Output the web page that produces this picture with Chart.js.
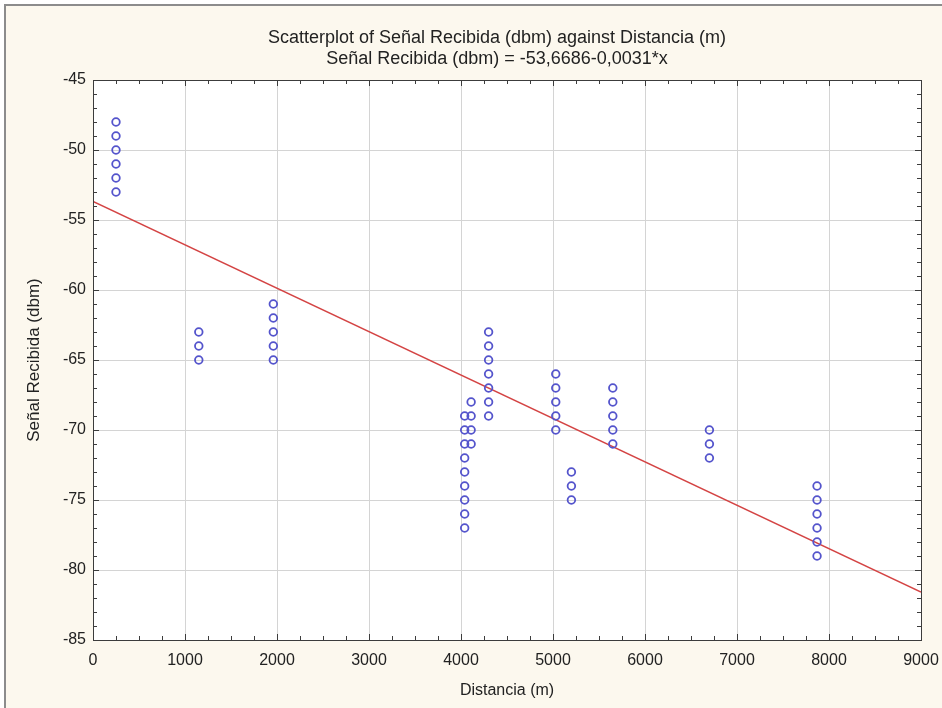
<!DOCTYPE html>
<html>
<head>
<meta charset="utf-8">
<script src="https://cdn.jsdelivr.net/npm/chart.js@4"></script>
<style>
  body { margin: 0; background: #ffffff; }
  #chart { display: block; }
</style>
</head>
<body>
<canvas id="chart" width="942" height="708"></canvas>
<script>
// distance groups (m) and the signal readings measured at each one
const distances = [250, 1150, 1960, 4040, 4110, 4300, 5030, 5200, 5650, 6700, 7870];
const signals = [
  [-48, -49, -50, -51, -52, -53],
  [-63, -64, -65],
  [-61, -62, -63, -64, -65],
  [-69, -70, -71, -72, -73, -74, -75, -76, -77],
  [-68, -69, -70, -71],
  [-63, -64, -65, -66, -67, -68, -69],
  [-66, -67, -68, -69, -70],
  [-73, -74, -75],
  [-67, -68, -69, -70, -71],
  [-70, -71, -72],
  [-74, -75, -76, -77, -78, -79]
];

// regression from the title
const intercept = -53.6686;
const slope = -0.0031;
const fitRange = [0, 9000];

const xTicks = [0, 1000, 2000, 3000, 4000, 5000, 6000, 7000, 8000, 9000];
const yTicks = [-85, -80, -75, -70, -65, -60, -55, -50, -45];

const titleLines = [
  "Scatterplot of Señal Recibida (dbm) against Distancia (m)",
  "Señal Recibida (dbm) = -53,6686-0,0031*x"
];

const font = "'Liberation Sans', Arial, sans-serif";

let points = [];
distances.forEach((d, i) => {
  signals[i].forEach(s => points.push({ x: d, y: s }));
});

const fitLine = fitRange.map(x => ({ x: x, y: intercept + slope * x }));

// cream page, grey frame, white plot area
const backdrop = {
  id: "backdrop",
  beforeDraw(chart) {
    const ctx = chart.ctx;
    const a = chart.chartArea;
    ctx.save();
    ctx.fillStyle = "#ffffff";
    ctx.fillRect(0, 0, chart.width, chart.height);
    ctx.fillStyle = "#fcf8ee";
    ctx.fillRect(6, 6, chart.width - 6, chart.height - 6);
    ctx.strokeStyle = "#8c8c8c";
    ctx.lineWidth = 2;
    ctx.beginPath();
    ctx.moveTo(5, chart.height);
    ctx.lineTo(5, 5);
    ctx.lineTo(chart.width, 5);
    ctx.stroke();
    ctx.fillStyle = "#ffffff";
    ctx.fillRect(a.left, a.top, a.right - a.left, a.bottom - a.top);
    // two title lines, centred a little left of the plot centre
    ctx.fillStyle = "#222222";
    ctx.font = "18px " + font;
    ctx.textAlign = "center";
    ctx.textBaseline = "middle";
    ctx.fillText(titleLines[0], 497, 38);
    ctx.fillText(titleLines[1], 497, 59);
    ctx.restore();
  }
};

// box round the plot with small inward ticks
const frameTicks = {
  id: "frameTicks",
  afterDatasetsDraw(chart) {
    const ctx = chart.ctx;
    const a = chart.chartArea;
    const xs = chart.scales.x;
    const ys = chart.scales.y;
    ctx.save();
    ctx.strokeStyle = "#3c3c3c";
    ctx.lineWidth = 1;
    ctx.beginPath();
    for (let v = 0; v <= 9000; v += 250) {
      const px = Math.round(xs.getPixelForValue(v)) + 0.5;
      const len = v % 1000 === 0 ? 6 : 4;
      ctx.moveTo(px, a.bottom);
      ctx.lineTo(px, a.bottom - len);
      ctx.moveTo(px, a.top);
      ctx.lineTo(px, a.top + len);
    }
    for (let v = -85; v <= -45; v += 1) {
      const py = Math.round(ys.getPixelForValue(v)) + 0.5;
      const len = v % 5 === 0 ? 6 : 4;
      ctx.moveTo(a.left, py);
      ctx.lineTo(a.left + len, py);
      ctx.moveTo(a.right, py);
      ctx.lineTo(a.right - len, py);
    }
    ctx.stroke();
    ctx.strokeRect(Math.round(a.left) + 0.5, Math.round(a.top) + 0.5,
      Math.round(a.right - a.left), Math.round(a.bottom - a.top));
    ctx.restore();
  }
};

new Chart(document.getElementById("chart"), {
  type: "scatter",
  data: {
    datasets: [
      {
        label: "Señal Recibida (dbm)",
        data: points,
        pointStyle: "circle",
        pointRadius: 3.8,
        pointBorderWidth: 1.8,
        borderColor: "#5454cc",
        backgroundColor: "rgba(0,0,0,0)"
      },
      {
        type: "line",
        label: "fit",
        data: fitLine,
        borderColor: "#d44444",
        borderWidth: 1.5,
        pointRadius: 0,
        fill: false
      }
    ]
  },
  plugins: [backdrop, frameTicks],
  options: {
    responsive: false,
    animation: false,
    devicePixelRatio: 1,
    layout: { padding: { left: 0, right: 21, top: 80, bottom: 0 } },
    plugins: {
      legend: { display: false },
      tooltip: { enabled: false },
      title: { display: false }
    },
    scales: {
      x: {
        type: "linear",
        min: 0,
        max: 9000,
        afterBuildTicks: (scale) => { scale.ticks = xTicks.map(v => ({ value: v })); },
        afterFit: (scale) => {
          scale.height = 68;
          scale.paddingLeft = 0;
          scale.paddingRight = 0;
        },
        grid: { color: "#d4d4d4", drawTicks: false },
        border: { display: false },
        ticks: {
          color: "#222222",
          padding: 11,
          maxRotation: 0,
          font: { family: font, size: 16 },
          callback: (v) => String(v)
        },
        title: {
          display: true,
          text: "Distancia (m)",
          color: "#222222",
          font: { family: font, size: 16 },
          padding: { top: 0, bottom: 8 }
        }
      },
      y: {
        type: "linear",
        min: -85,
        max: -45,
        afterBuildTicks: (scale) => { scale.ticks = yTicks.map(v => ({ value: v })); },
        afterFit: (scale) => {
          scale.width = 93;
          scale.paddingTop = 0;
          scale.paddingBottom = 0;
        },
        grid: { color: "#d4d4d4", drawTicks: false },
        border: { display: false },
        ticks: {
          color: "#222222",
          padding: 7,
          font: { family: font, size: 16 },
          callback: (v) => String(v)
        },
        title: {
          display: true,
          text: "Señal Recibida (dbm)",
          color: "#222222",
          font: { family: font, size: 17 },
          padding: { top: 24, bottom: 0 }
        }
      }
    }
  }
});
</script>
</body>
</html>
